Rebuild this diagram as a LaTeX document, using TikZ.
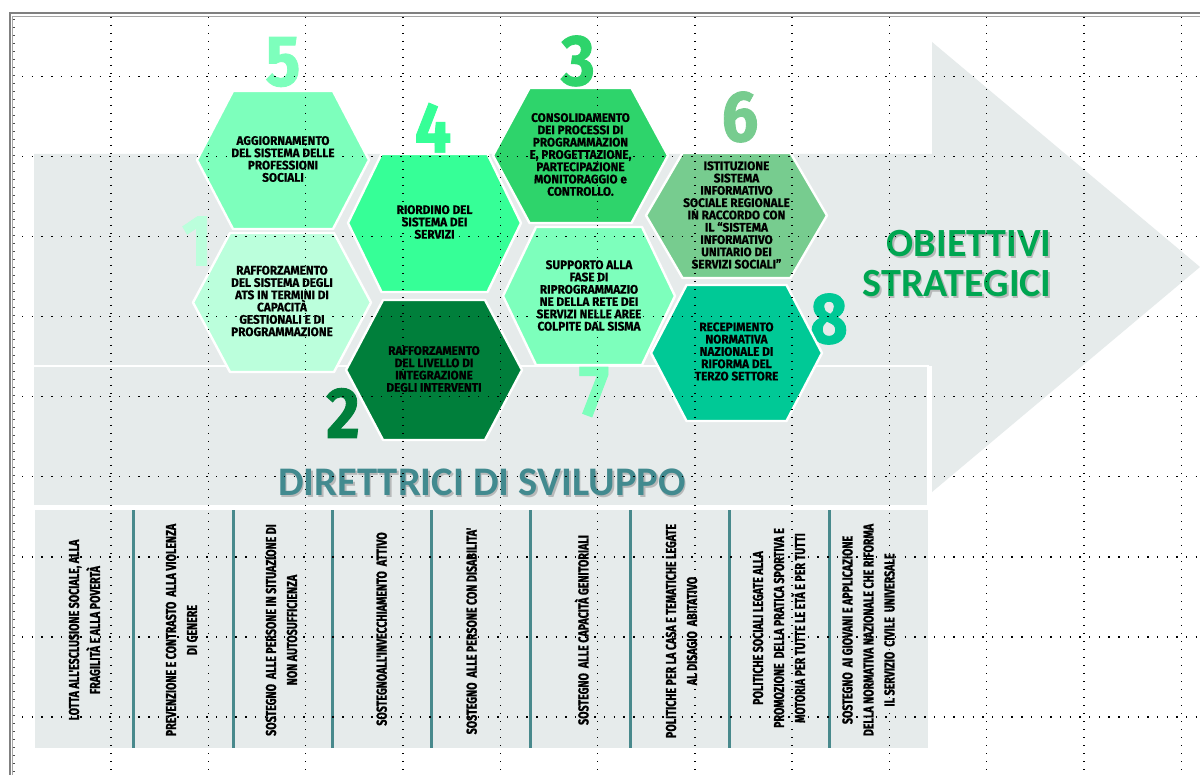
\documentclass[tikz,border=0pt]{standalone}
\usepackage{fontspec}
\setmainfont{Fira Sans}
\newfontfamily\hexfont[FakeStretch=0.95,FakeBold=0.6]{Fira Sans}
\newfontfamily\colfont[FakeStretch=0.74,FakeBold=1]{Fira Sans}
\newfontfamily\numfont[FakeStretch=0.9,FakeBold=1.2]{Fira Sans}
\newfontfamily\titlefont{Carlito}
\definecolor{panelgray}{HTML}{E6EBEB}
\definecolor{cA}{HTML}{BBFFDC}
\definecolor{cB}{HTML}{007F3B}
\definecolor{cC}{HTML}{2ED46B}
\definecolor{cD}{HTML}{36FF97}
\definecolor{cE}{HTML}{7DFFBC}
\definecolor{cF}{HTML}{77CC8F}
\definecolor{cG}{HTML}{7DFFBC}
\definecolor{cH}{HTML}{00C996}
\definecolor{titlegreen}{HTML}{00A651}
\definecolor{tealtitle}{HTML}{428A8F}
\definecolor{barteal}{HTML}{48898C}
\newcommand\hexag[6]{\fill[#6, draw=white, line width=1.2pt, line join=round] (#1-#3,#2) -- (#1-#4,#2-#5) -- (#1+#4,#2-#5) -- (#1+#3,#2) -- (#1+#4,#2+#5) -- (#1-#4,#2+#5) -- cycle;}
\tikzset{
 hextext/.style={align=center, font=\hexfont\bfseries\fontsize{6.2}{6.15}\selectfont, text=black, inner sep=0pt},
 coltext/.style={rotate=90, align=center, font=\colfont\bfseries\fontsize{7.2}{10.5}\selectfont, text=black, inner sep=0pt},
 bignum/.style={font=\numfont\bfseries\fontsize{36}{36}\selectfont, inner sep=0pt},
 sepbar/.style={draw=barteal, line width=1.5pt},
 gridv/.style={draw=black, line width=0.7pt, dash pattern=on 0.7pt off 3.3pt},
 gridh/.style={draw=black, line width=0.7pt, dash pattern=on 0.7pt off 4.15pt},
 bigtitle/.style={font=\titlefont\bfseries\fontsize{20}{20}\selectfont, inner sep=0pt, align=right},
 subtitle/.style={font=\titlefont\bfseries\fontsize{20.3}{20}\selectfont, inner sep=0pt},
}
\begin{document}
\begin{tikzpicture}[x=0.5pt,y=-0.5pt]
\useasboundingbox (0,0) rectangle (1200,775);
\fill[white] (0,0) rectangle (1200,775);
% background arrow and panels
\fill[panelgray] (34,154) -- (932,154) -- (932,42) -- (1200,267) -- (932,492) -- (932,366) -- (34,366) -- cycle;
\fill[panelgray] (34,366) rectangle (928,505);
\draw[white, line width=1.2pt] (34,366) -- (928,366) -- (928,505);
\fill[panelgray] (35,510) rectangle (928,748);
\foreach \x in {133,233,332,431,530.5,630,729,829} \draw[sepbar] (\x,510) -- (\x,748);
% big numbers
\node[bignum, text=cE] (n5) at (283,62) {5};
\node[bignum, text=cD] (n4) at (433,128) {4};
\node[bignum, text=cC] (n3) at (578,61) {3};
\node[bignum, text=cF] (n6) at (740,117) {6};
\node[bignum, text=cA] (n1) at (197,241) {1};
\node[bignum, text=cB] (n2) at (343,413) {2};
\node[bignum, text=cG] (n7) at (594,392) {7};
\node[bignum, text=cH] (n8) at (829,319) {8};
% hexagons
\hexag{283}{160}{86}{50}{69}{cE}
\hexag{434.5}{223}{86.5}{53}{69}{cD}
\hexag{580.5}{155.5}{87.5}{51}{67.5}{cC}
\hexag{736.5}{215.5}{90.5}{54}{62.5}{cF}
\hexag{589}{296}{86}{53}{69}{cG}
\hexag{736.5}{353}{85.5}{50}{68}{cH}
\hexag{282}{302.5}{89}{52}{69.5}{cA}
\hexag{434}{370}{88}{51}{70}{cB}
% hexagon texts
\node[hextext] (t5) at (283,159) {AGGIORNAMENTO\\DEL SISTEMA DELLE\\PROFESSIONI\\SOCIALI};
\node[hextext] (t4) at (434.5,222) {RIORDINO DEL\\SISTEMA DEI\\SERVIZI};
\node[hextext] (t3) at (580.5,154.5) {CONSOLIDAMENTO\\DEI PROCESSI DI\\PROGRAMMAZION\\E, PROGETTAZIONE,\\PARTECIPAZIONE\\MONITORAGGIO e\\CONTROLLO.};
\node[hextext] (t6) at (736.5,215) {ISTITUZIONE\\SISTEMA\\INFORMATIVO\\SOCIALE REGIONALE\\IN RACCORDO CON\\IL “SISTEMA\\INFORMATIVO\\UNITARIO DEI\\SERVIZI SOCIALI”};
\node[hextext] (t7) at (589,295.5) {SUPPORTO ALLA\\FASE DI\\RIPROGRAMMAZIO\\NE DELLA RETE DEI\\SERVIZI NELLE AREE\\COLPITE DAL SISMA};
\node[hextext] (t8) at (736.5,351.5) {RECEPIMENTO\\NORMATIVA\\NAZIONALE DI\\RIFORMA DEL\\TERZO SETTORE};
\node[hextext] (t1) at (282,301) {RAFFORZAMENTO\\DEL SISTEMA DEGLI\\ATS IN TERMINI DI\\CAPACITÀ\\GESTIONALI E DI\\PROGRAMMAZIONE};
\node[hextext] (t2) at (434,369) {RAFFORZAMENTO\\DEL LIVELLO DI\\INTEGRAZIONE\\DEGLI INTERVENTI};
% titles
\node[bigtitle, anchor=base east, text=black!40, opacity=0.6] (ots) at (1053.5,299) {OBIETTIVI\\STRATEGICI};
\node[bigtitle, anchor=base east, text=titlegreen] (ot) at (1052,297) {OBIETTIVI\\STRATEGICI};
\node[subtitle, anchor=base, text=black!40, opacity=0.6] (dss) at (483.5,497) {DIRETTRICI DI SVILUPPO};
\node[subtitle, anchor=base, text=tealtitle] (ds) at (482,495) {DIRETTRICI DI SVILUPPO};
% column texts
\node[coltext] (k1) at (84.5,630) {LOTTA ALL'ESCLUSIONE SOCIALE, ALLA\\FRAGILITÀ E ALLA POVERTÀ};
\node[coltext] (k2) at (181.5,630) {PREVENZIONE E CONTRASTO\ \ ALLA VIOLENZA\\DI GENERE};
\node[coltext] (k3) at (281.5,630) {SOSTEGNO\ \ ALLE PERSONE IN SITUAZIONE DI\\NON AUTOSUFFICIENZA};
\node[coltext] (k4) at (381.7,629) {SOSTEGNOALL'INVECCHIAMENTO\ \ ATTIVO};
\node[coltext] (k5) at (471.7,631) {SOSTEGNO\ \ ALLE PERSONE CON DISABILITA'};
\node[coltext] (k6) at (581.7,630) {SOSTEGNO\ \ ALLE CAPACITÀ GENITORIALI};
\node[coltext] (k7) at (681.5,631) {POLITICHE PER LA CASA E TEMATICHE LEGATE\\AL DISAGIO\ \ ABITATIVO};
\node[coltext] (k8) at (779,628) {POLITICHE SOCIALI LEGATE ALLA\\PROMOZIONE\ \ DELLA PRATICA SPORTIVA E\\MOTORIA PER TUTTE LE ETÀ E PER TUTTI};
\node[coltext] (k9) at (868.5,630) {SOSTEGNO\ \ AI GIOVANI E APPLICAZIONE\\DELLA NORMATIVA NAZIONALE CHE RIFORMA\\IL SERVIZIO\ \ CIVILE\ \ UNIVERSALE};
% dotted grid
\foreach \i in {0,...,11} \draw[gridv] ({111+97.3*\i},17) -- ({111+97.3*\i},775);
\foreach \j in {0,...,8} \draw[gridh] (22,{76.5+80.05*\j}) -- (1200,{76.5+80.05*\j});
\draw[black!70, line width=0.6pt, dash pattern=on 0.6pt off 3.4pt] (14,19) -- (14,775);
% frame
\draw[black!50, line width=1pt] (10,775) -- (10,13.5) -- (1200,13.5);
\draw[black!35, line width=0.5pt] (12.8,775) -- (12.8,16.5) -- (1200,16.5);
\end{tikzpicture}
\end{document}
